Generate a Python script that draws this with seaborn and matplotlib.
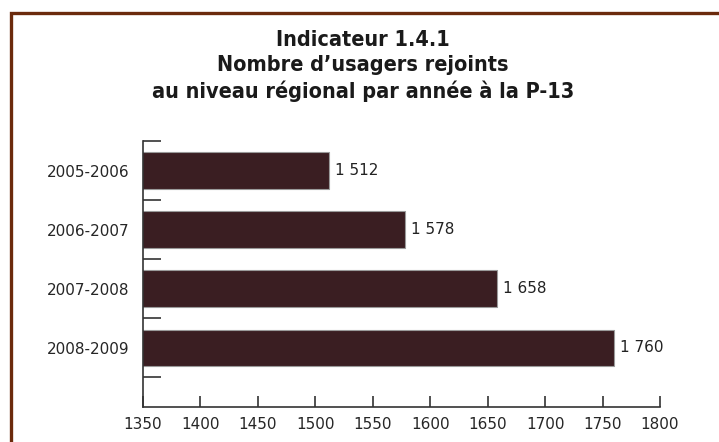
import numpy as np
import pandas as pd
import matplotlib
matplotlib.use("Agg")
import matplotlib.pyplot as plt
import seaborn as sns
from matplotlib.patches import Rectangle

years = ["2005-2006", "2006-2007", "2007-2008", "2008-2009"]
usagers = [1512, 1578, 1658, 1760]
xticks = [1350, 1400, 1450, 1500, 1550, 1600, 1650, 1700, 1750, 1800]

df = pd.DataFrame({"Annee": years, "Usagers": usagers})

sns.set_style("white")
plt.rcParams["font.family"] = ["DejaVu Sans"]

fig = plt.figure(figsize=(7.19, 4.42), dpi=100)
# brown frame around the chart
fig.patches.append(Rectangle((11 / 719, -0.1), 1.2, 1 - 13 / 442 + 0.1,
                             transform=fig.transFigure, fill=False,
                             edgecolor="#6b2a0c", linewidth=2.4))

ax = fig.add_axes([143 / 719, 1 - 407 / 442, 517 / 719, 266 / 442])
sns.barplot(data=df, x="Usagers", y="Annee", color="#3e1a1f", width=0.62,
            edgecolor="#9a9a9a", linewidth=0.8, ax=ax, orient="h")

ax.set_xlim(1350, 1800)
ax.set_ylim(4.0, -0.5)
ax.set_xticks(xticks)
ax.set_xticklabels([str(t) for t in xticks], fontsize=11)
ax.set_yticks(range(len(years)))
ax.set_yticklabels(years, fontsize=11)
ax.tick_params(axis="y", which="major", left=True, length=0, pad=10)
ax.tick_params(axis="x", bottom=True, direction="in", length=8, width=1.2, color="#333333", pad=7)
# minor ticks between categories on the y axis
ax.set_yticks([-0.5, 0.5, 1.5, 2.5, 3.5], minor=True)
ax.tick_params(axis="y", which="minor", left=True, direction="in", length=13, width=1.2, color="#333333")
ax.set_xlabel("")
ax.set_ylabel("")
sns.despine(ax=ax, top=True, right=True)
for s in ["left", "bottom"]:
    ax.spines[s].set_color("#333333")
    ax.spines[s].set_linewidth(1.2)

for i, v in enumerate(usagers):
    lab = f"{v:,}".replace(",", " ")
    ax.text(v + 5, i, lab, va="center", ha="left", fontsize=11, color="#222222")

fig.text(363 / 719, 1 - 66 / 442,
         "Indicateur 1.4.1\nNombre d\u2019usagers rejoints\nau niveau r\u00e9gional par ann\u00e9e \u00e0 la P-13",
         ha="center", va="center", fontsize=15.5, fontweight="bold", fontstretch="condensed",
         linespacing=1.3, color="#1a1a1a")

fig.savefig("out.png", dpi=100)
